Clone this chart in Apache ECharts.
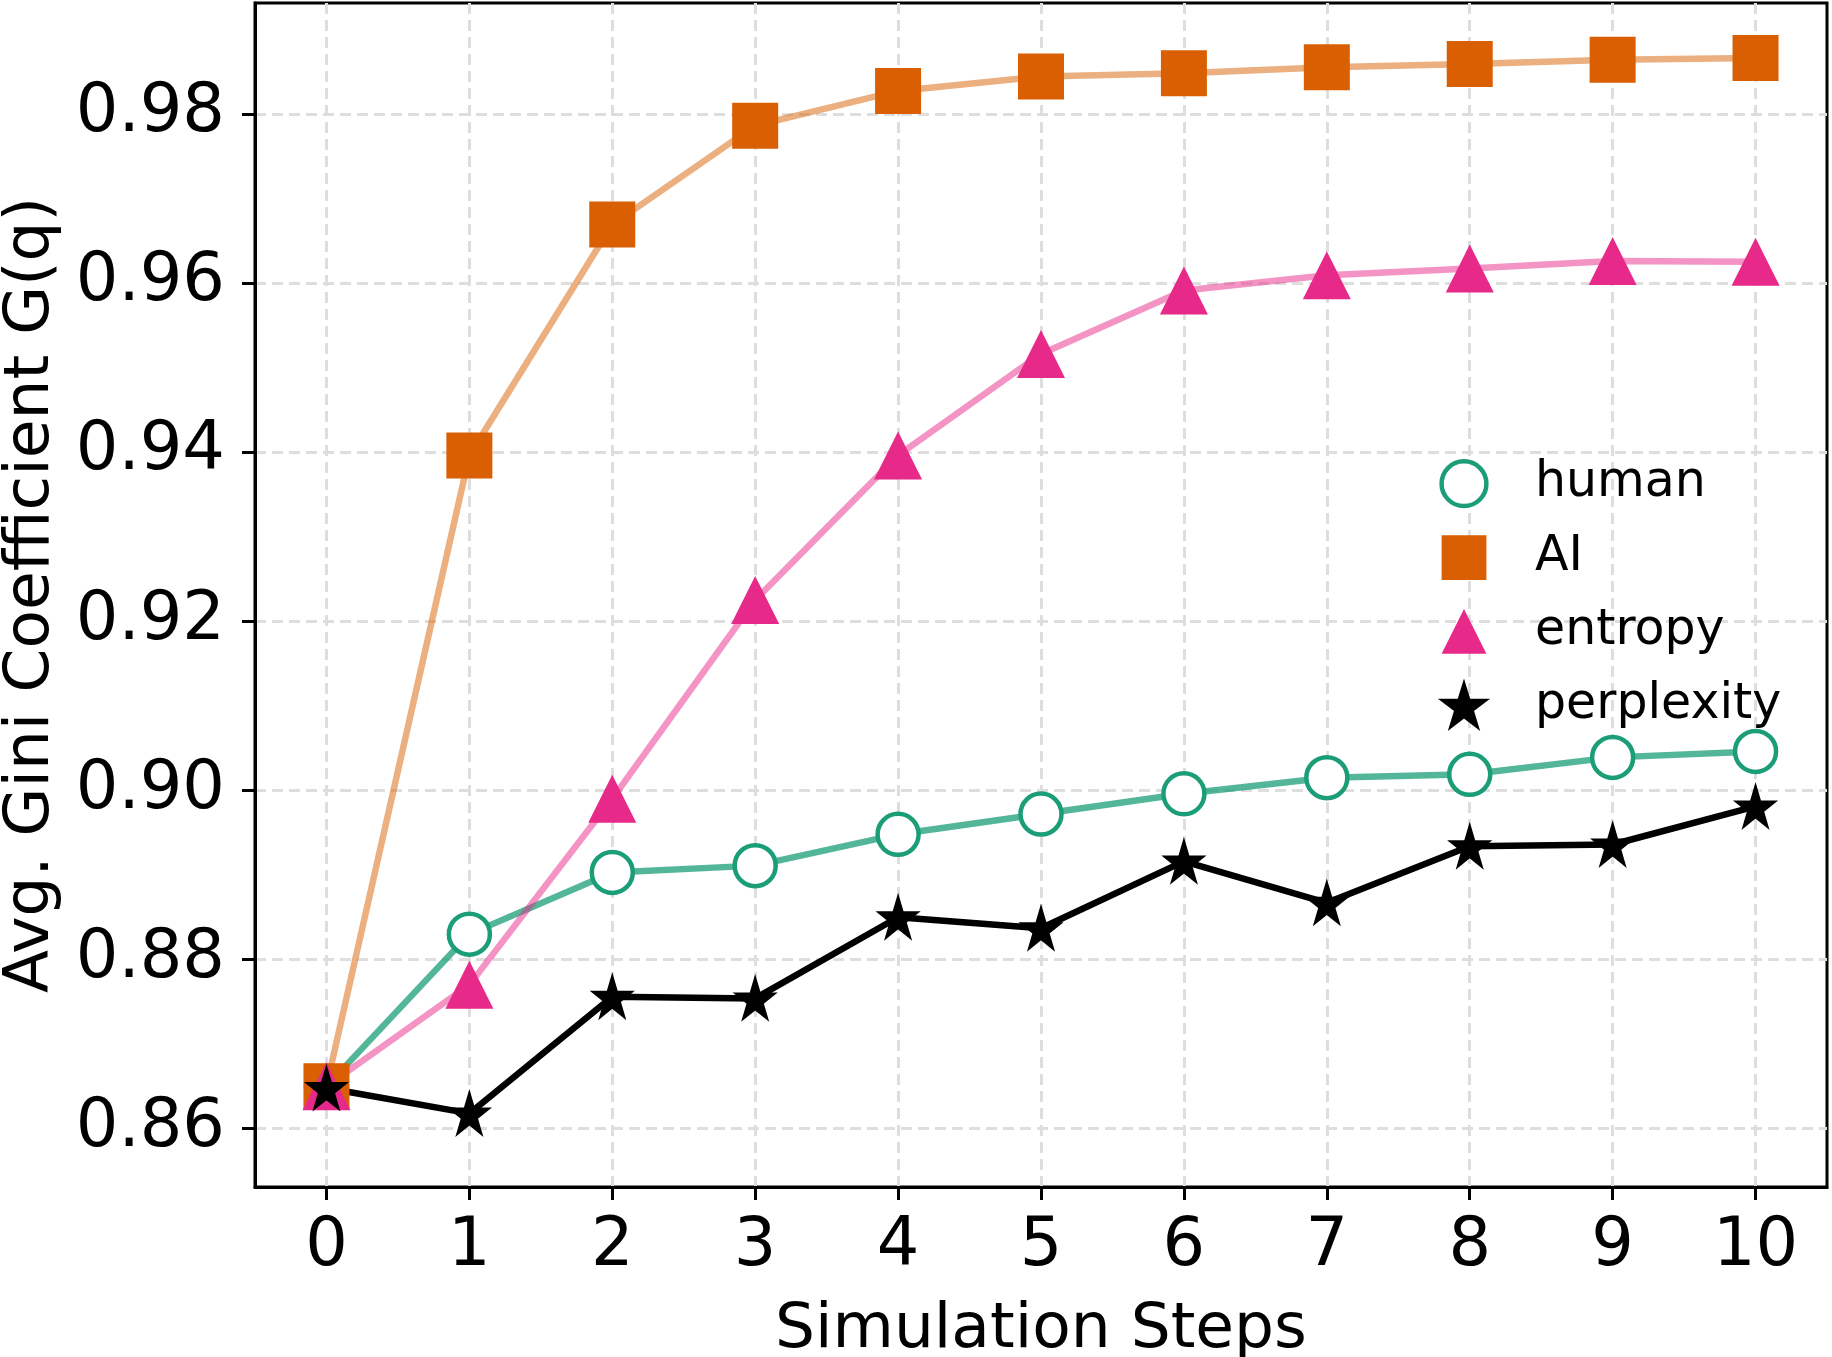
<!DOCTYPE html>
<html>
<head>
<meta charset="utf-8">
<title>Avg. Gini Coefficient</title>
<script src="https://cdn.jsdelivr.net/npm/echarts@6/dist/echarts.min.js"></script>
<style>
  html, body { margin: 0; padding: 0; background: #fff; }
  #main { width: 1832px; height: 1357px; }
</style>
</head>
<body>
<div id="main"></div>
<script>
// simulation steps on x
var steps = [0, 1, 2, 3, 4, 5, 6, 7, 8, 9, 10]
var yTicks = [0.86, 0.88, 0.90, 0.92, 0.94, 0.96, 0.98]

var human = [0.865, 0.8830, 0.8903, 0.8911, 0.8948, 0.8972, 0.8996, 0.9015, 0.9019, 0.9039, 0.9046]
var ai = [0.865, 0.9396, 0.9669, 0.9786, 0.9827, 0.9844, 0.9848, 0.9855, 0.9859, 0.9864, 0.9866]
var entropy = [0.865, 0.8770, 0.8990, 0.9225, 0.9396, 0.9516, 0.9591, 0.9609, 0.9617, 0.9626, 0.9625]
var perplexity = [0.8648, 0.8618, 0.8756, 0.8754, 0.8850, 0.8837, 0.8916, 0.8867, 0.8934, 0.8936, 0.8981]

var FONT = 'DejaVu Sans'
var STAR = 'path://M100 0 L122.45 69.1 L195.1 69.1 L136.3 111.8 L158.8 180.9 L100 138.2 L41.2 180.9 L63.7 111.8 L4.9 69.1 L77.55 69.1 Z'

function pairs(vals) {
  return steps.map(function (s, i) { return [s, vals[i]] })
}

function makeSeries(name, vals, symbol, size, itemStyle, lineColor, lineOpacity) {
  return {
    name: name,
    type: 'line',
    data: pairs(vals),
    symbol: symbol,
    symbolSize: size,
    showAllSymbol: true,
    animation: false,
    itemStyle: itemStyle,
    lineStyle: { color: lineColor, width: 6.5, opacity: lineOpacity },
    emphasis: { disabled: true }
  }
}

var chart = echarts.init(document.getElementById('main'), null, { renderer: 'canvas' })

var option = {
  backgroundColor: '#fff',
  animation: false,
  textStyle: { fontFamily: FONT },
  grid: {
    left: 255, right: 5, top: 3, bottom: 170,
    outerBoundsMode: 'none',
    containLabel: false,
    show: true, borderColor: '#000', borderWidth: 3
  },
  legend: {
    orient: 'vertical',
    left: 1398,
    top: 459,
    padding: 0,
    itemWidth: 132,
    itemHeight: 56,
    itemGap: 24.8,
    selectedMode: false,
    textStyle: { fontFamily: FONT, fontSize: 49, color: '#000' },
    lineStyle: { width: 0 },
    itemStyle: { borderWidth: 'inherit' },
    data: ['human', 'AI', 'entropy', 'perplexity']
  },
  xAxis: {
    type: 'value',
    min: -0.5,
    max: 10.5,
    name: 'Simulation Steps',
    nameLocation: 'middle',
    nameGap: 112,
    nameTextStyle: { fontFamily: FONT, fontSize: 63, color: '#000' },
    axisLine: { show: true, onZero: false, lineStyle: { color: '#000', width: 3 } },
    axisTick: { show: true, customValues: steps, length: 13, lineStyle: { color: '#000', width: 3 } },
    axisLabel: { customValues: steps, margin: 27, fontFamily: FONT, fontSize: 67, color: '#000' },
    splitLine: { show: true, lineStyle: { color: '#dedede', width: 3, type: [11, 6] } }
  },
  yAxis: {
    type: 'value',
    min: 0.8531,
    max: 0.9931,
    name: 'Avg. Gini Coefficient G(q)',
    nameLocation: 'middle',
    nameRotate: 90,
    nameGap: 192,
    nameTextStyle: { fontFamily: FONT, fontSize: 63, color: '#000' },
    axisLine: { show: true, onZero: false, lineStyle: { color: '#000', width: 3 } },
    axisTick: { show: true, customValues: yTicks, length: 13, lineStyle: { color: '#000', width: 3 } },
    axisLabel: {
      customValues: yTicks, margin: 30, fontFamily: FONT, fontSize: 67, color: '#000',
      formatter: function (v) { return v.toFixed(2) }
    },
    splitLine: { show: true, lineStyle: { color: '#dedede', width: 3, type: [11, 6] } }
  },
  series: [
    makeSeries('human', human, 'circle', 41,
      { color: '#fff', borderColor: '#1b9e77', borderWidth: 4.5 }, '#1b9e77', 0.75),
    makeSeries('AI', ai, 'rect', 46,
      { color: '#d95f02', borderWidth: 0 }, '#d95f02', 0.5),
    makeSeries('entropy', entropy, 'triangle', 48,
      { color: '#e7298a', borderWidth: 0 }, '#e7298a', 0.5),
    makeSeries('perplexity', perplexity, STAR, [38, 40],
      { color: '#000', borderColor: '#000', borderWidth: 2.5 }, '#000', 1)
  ]
}

chart.setOption(option)
</script>
</body>
</html>
